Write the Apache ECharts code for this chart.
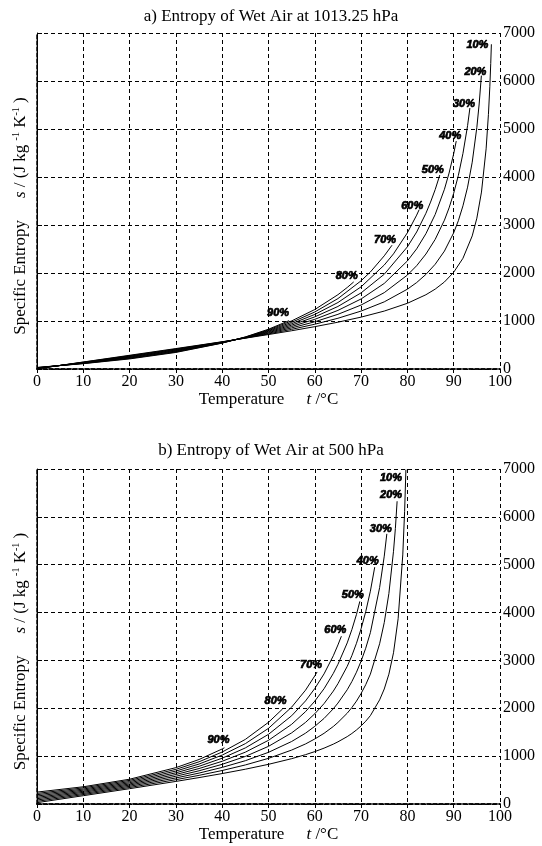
<!DOCTYPE html>
<html><head><meta charset="utf-8">
<script src="https://cdn.jsdelivr.net/npm/echarts@6/dist/echarts.min.js"></script>
<style>html,body{margin:0;padding:0;background:#fff}#c{width:542px;height:846px}</style>
</head><body><div id="c"></div>
<script>
// ---- data ----
const curveLabels = ['10%','20%','30%','40%','50%','60%','70%','80%','90%'];
const xTicks = [0,10,20,30,40,50,60,70,80,90,100];
const yTicks = [0,1000,2000,3000,4000,5000,6000,7000];

// Panel a: 1013.25 hPa  (temperature °C, entropy J/(kg K))
const aT10 = [0,10,20,30,40,45,50,55,60,65,70,75,80,84,86,88,90,92,94,95,96,97,97.5,97.8,98,98.14];
const aS10 = [4,146,286,426,568,642,718,797,882,975,1081,1207,1369,1547,1664,1813,2015,2307,2773,3142,3686,4586,5304,5880,6366,6765];
const aT20 = [0,10,20,30,40,45,50,55,60,65,70,75,80,82,84,86,88,90,91,92,93,94,95,95.5,95.98];
const aS20 = [7,142,277,416,565,645,731,826,933,1057,1207,1399,1663,1801,1971,2182,2457,2838,3088,3400,3789,4309,5034,5521,6112];
const aT30 = [0,10,20,30,40,45,50,55,60,65,70,75,80,82,84,86,88,89,90,91,92,93,93.5];
const aS30 = [11,137,267,406,561,648,745,856,984,1139,1333,1591,1957,2152,2395,2700,3101,3356,3662,4030,4492,5070,5437];
const aT40 = [0,10,20,30,40,45,50,55,60,65,70,75,80,82,84,86,88,89,90,90.55];
const aS40 = [15,133,258,396,557,651,759,885,1035,1221,1459,1783,2251,2503,2819,3219,3745,4082,4485,4748];
const aT50 = [0,10,20,30,40,45,50,55,60,65,70,75,80,82,84,85,86,87];
const aS50 = [18,129,248,386,554,655,773,914,1086,1303,1586,1974,2545,2854,3244,3477,3737,4041];
const aT60 = [0,10,20,30,40,45,50,55,60,65,70,75,77,80,82,82.54];
const aS60 = [22,124,239,375,550,658,787,943,1137,1385,1712,2166,2399,2838,3206,3320];
const aT70 = [0,10,20,30,40,45,50,55,60,65,70,72,75,76.68];
const aS70 = [25,120,229,365,546,661,801,972,1188,1467,1838,2021,2358,2579];
const aT80 = [0,10,20,30,40,45,50,55,60,65,67,68.4];
const aS80 = [29,115,220,355,542,664,815,1002,1239,1548,1698,1814];
const aT90 = [0,10,20,30,40,45,50,54.45];
const aS90 = [33,111,210,345,539,668,829,1007];

// Panel b: 500 hPa
const bT10 = [0,10,20,30,35,40,45,50,55,58,60,62,64,65,67,68,69,70,71,72,74,75,76,77,78,79,79.4,79.68];
const bS10 = [28,174,320,472,552,636,727,829,947,1031,1095,1167,1251,1299,1408,1473,1547,1632,1730,1846,2176,2403,2713,3160,3871,5204,6114,6987];
const bT20 = [0,10,20,30,35,40,45,50,55,58,60,62,64,65,67,68,69,70,71,72,74,75,76,77,77.4,77.78];
const bS20 = [55,197,345,508,599,700,816,954,1127,1255,1359,1477,1620,1704,1897,2015,2150,2309,2493,2713,3348,3791,4398,5281,5755,6326];
const bT30 = [0,10,20,30,35,40,45,50,55,58,60,62,64,65,67,68,69,70,71,72,74,75,75.56];
const bS30 = [83,220,370,544,646,765,905,1080,1306,1480,1623,1788,1990,2109,2387,2557,2754,2986,3255,3580,4521,5179,5645];
const bT40 = [0,10,20,30,35,40,45,50,55,58,60,62,64,65,67,68,69,70,71,72,72.94];
const bS40 = [111,244,395,580,694,829,994,1205,1486,1705,1886,2098,2359,2514,2876,3099,3358,3663,4018,4447,4948];
const bT50 = [0,10,20,30,35,40,45,50,55,58,60,62,64,65,67,68,69,69.73];
const bS50 = [138,267,419,616,741,893,1083,1331,1665,1930,2150,2409,2729,2919,3366,3642,3961,4235];
const bT60 = [0,10,20,30,35,40,45,50,55,58,60,62,64,65,65.74];
const bS60 = [166,290,444,652,788,957,1172,1456,1844,2154,2414,2719,3098,3324,3506];
const bT70 = [0,10,20,30,35,40,45,50,55,58,60,60.49];
const bS70 = [194,313,469,688,835,1022,1261,1581,2024,2379,2678,2759];
const bT80 = [0,10,20,30,35,40,45,50,53.05];
const bS80 = [221,337,494,724,882,1086,1350,1707,1987];
const bT90 = [0,10,20,30,35,40,40.48];
const bS90 = [249,360,518,760,930,1150,1175];

// ---- styling / layout ----
const panelA = [[aT10,aS10],[aT20,aS20],[aT30,aS30],[aT40,aS40],[aT50,aS50],[aT60,aS60],[aT70,aS70],[aT80,aS80],[aT90,aS90]];
const panelB = [[bT10,bS10],[bT20,bS20],[bT30,bS30],[bT40,bS40],[bT50,bS50],[bT60,bS60],[bT70,bS70],[bT80,bS80],[bT90,bS90]];
const offA = [[-14,1],[-6,-4],[-6,-4],[-6,-5],[-7,-5],[-7,-4],[-7,-5],[-7,-6],[-11,-8]];
const offB = [[-15,8],[-6,-6],[-6,-5],[-7,-6],[-7,-6],[-6,-6],[-6,-7],[-7,-8],[-6,-8]];

const SERIF = '"Liberation Serif","Times New Roman",serif';
const SANS = '"Liberation Sans",Arial,sans-serif';
const dashGrid = {color:'#000', type:[4,3], width:1};
const dashFrame = {color:'#000', type:[4,2], width:1.5};

const xName = '{n|Temperature}{g|}{i|t}{n| /°C}';
const yName = '{n|Specific Entropy}{g|}{i|s}{n| / (J kg }{sup|-1}{n| K}{sup|-1}{n| )}';
const nameRich = {
  n:{fontFamily:SERIF, fontSize:17, color:'#000', lineHeight:20},
  i:{fontFamily:SERIF, fontSize:17, fontStyle:'italic', color:'#000', lineHeight:20},
  g:{width:22},
  sup:{fontFamily:SERIF, fontSize:10, color:'#000', lineHeight:11, verticalAlign:'top'}
};

function xAxesFor(g){
  return [
    {gridIndex:g, type:'value', position:'bottom', min:0, max:100, interval:10,
     axisLine:{show:true, lineStyle:dashFrame},
     axisTick:{show:true, length:4, lineStyle:{color:'#000'}},
     axisLabel:{color:'#000', fontFamily:SERIF, fontSize:16, margin:5,
       formatter:v=>xTicks.includes(v)?String(v):''},
     splitLine:{show:true, lineStyle:dashGrid},
     name:xName, nameLocation:'middle', nameGap:20,
     nameTextStyle:{rich:nameRich}},
    {gridIndex:g, type:'value', position:'top', min:0, max:100, interval:10,
     axisLine:{show:true, lineStyle:dashFrame}, axisTick:{show:false},
     axisLabel:{show:false}, splitLine:{show:false}}
  ];
}
function yAxesFor(g){
  return [
    {gridIndex:g, type:'value', position:'right', min:0, max:7000, interval:1000,
     axisLine:{show:true, lineStyle:{color:'#000', width:1}},
     axisTick:{show:true, length:5, lineStyle:{color:'#000'}},
     axisLabel:{color:'#000', fontFamily:SERIF, fontSize:16, margin:3,
       formatter:v=>yTicks.includes(v)?String(v):''},
     splitLine:{show:true, lineStyle:dashGrid}},
    {gridIndex:g, type:'value', position:'left', min:0, max:7000, interval:1000,
     axisLine:{show:true, lineStyle:dashFrame}, axisTick:{show:false},
     axisLabel:{show:false}, splitLine:{show:false},
     name:yName, nameLocation:'middle', nameGap:6, nameRotate:90,
     nameTextStyle:{rich:nameRich, padding:[0,30,0,0]}}
  ];
}

function seriesFor(panel, offs, axisIdx){
  return panel.map((c,k)=>{
    const T=c[0], S=c[1];
    const last=[T[T.length-1], S[S.length-1]];
    return {
      type:'line', xAxisIndex:axisIdx, yAxisIndex:axisIdx,
      data:T.map((t,i)=>[t,S[i]]),
      showSymbol:false, symbol:'none', smooth:false,
      lineStyle:{color:'#000', width:1}, clip:true, silent:true,
      markPoint:{symbol:'circle', symbolSize:1, itemStyle:{color:'rgba(0,0,0,0)'},
        label:{show:true, position:'inside', formatter:curveLabels[k], offset:offs[k],
          fontFamily:SANS, fontStyle:'italic', fontWeight:'bold', fontSize:11, color:'#000',
          textBorderColor:'#000', textBorderWidth:0.7},
        data:[{coord:last}]}
    };
  });
}

const chart = echarts.init(document.getElementById('c'));
chart.setOption({
  animation:false,
  backgroundColor:'#fff',
  title:[
    {text:'a) Entropy of Wet Air at 1013.25 hPa', left:'center', top:3,
     textStyle:{fontFamily:SERIF, fontSize:17, fontWeight:'normal', color:'#000'}},
    {text:'b) Entropy of Wet Air at 500 hPa', left:'center', top:437,
     textStyle:{fontFamily:SERIF, fontSize:17, fontWeight:'normal', color:'#000'}}
  ],
  grid:[
    {left:37, top:33, width:463, height:336},
    {left:37, top:469, width:463, height:335}
  ],
  xAxis:[...xAxesFor(0), ...xAxesFor(1)],
  yAxis:[...yAxesFor(0), ...yAxesFor(1)],
  series:[...seriesFor(panelA, offA, 0), ...seriesFor(panelB, offB, 2)]
});
</script></body></html>
